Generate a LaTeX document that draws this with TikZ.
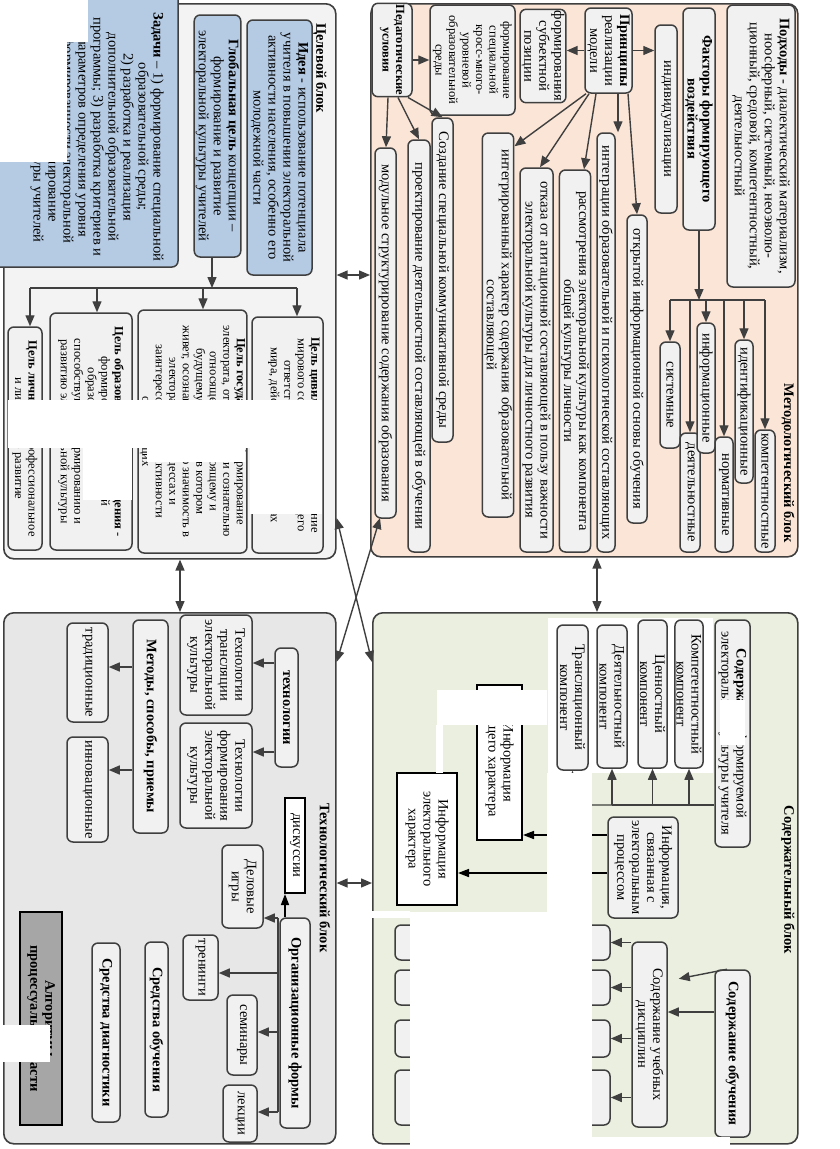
\documentclass[tikz,border=0pt]{standalone}
\usepackage{fontspec}
\setmainfont{Liberation Serif}
\usetikzlibrary{arrows.meta}
\definecolor{bdr}{HTML}{3F3F3F}
\definecolor{peach}{HTML}{FBE5D6}
\definecolor{cgray}{HTML}{F3F3F3}
\definecolor{tgray}{HTML}{E7E7E7}
\definecolor{sgreen}{HTML}{EAEFDF}
\definecolor{bfill}{HTML}{F1F1F1}
\definecolor{blu}{HTML}{B5CBE4}
\definecolor{alggray}{HTML}{A6A6A6}
\newcommand\fs{\fontsize{14.5}{15}\selectfont}
\newcommand\fss{\fontsize{12.5}{13.5}\selectfont}
\newcommand\rb[7]{%
 \pgfmathsetmacro\rbW{#6-#4}%
 \pgfmathsetmacro\rbH{#5-#3}%
 \pgfmathsetmacro\rbX{(#3+#5)/2}%
 \pgfmathsetmacro\rbY{(#4+#6)/2}%
 \node[#2, rotate=-90, minimum width=\rbW pt, minimum height=\rbH pt] (#1) at (\rbX,\rbY) {#7};}
\newcommand\blk[6]{%
 \pgfmathsetmacro\bW{#5-#3}\pgfmathsetmacro\bH{#6-#4}%
 \node[blk, fill=#2, anchor=north west, minimum width=\bW pt, minimum height=\bH pt, inner sep=0pt] (#1) at (#3,#4) {};}
\newcommand\wpatch[4]{\fill[white] (#1,#2) rectangle (#3,#4);}
\begin{document}
\begin{tikzpicture}[x=1pt,y=-1pt,
  box/.style={draw=bdr, line width=1.5pt, rounded corners=6pt, fill=bfill, align=center, inner sep=1.5pt, font=\fs},
  sbox/.style={box, font=\fss},
  bbox/.style={box, fill=blu},
  rbox/.style={draw=black, line width=2pt, fill=white, align=center, inner sep=1.5pt, font=\fs},
  abox/.style={rbox, fill=alggray},
  blk/.style={draw=bdr, line width=1.6pt, rounded corners=10pt},
  ttl/.style={font=\fs\bfseries, inner sep=0pt},
  arr/.style={draw=bdr, line width=1.4pt, -{Triangle[length=11pt,width=9pt]}},
  darr/.style={draw=bdr, line width=1.4pt, {Triangle[length=11pt,width=9pt]}-{Triangle[length=11pt,width=9pt]}},
  barr/.style={draw=black, line width=1.6pt, -{Triangle[length=11pt,width=8pt]}},
  ln/.style={draw=bdr, line width=1.4pt}]
\useasboundingbox (0,0) rectangle (839,1149);
\fill[white] (0,0) rectangle (839,1149);

% blocks
\blk{mblk}{peach}{370}{3}{797}{556}
\blk{cblk}{cgray}{3}{3}{335}{558}
\blk{tblk}{tgray}{3}{612}{335}{1143}
\blk{sblk}{sgreen}{372}{612}{797}{1143}

% titles
\node[ttl, rotate=-90] (tm) at (788,463) {Методологический блок};
\node[ttl, rotate=-90] (tc) at (320,68) {Целевой блок};
\node[ttl, rotate=-90] (tt) at (325,878) {Технологический блок};
\node[ttl, rotate=-90] (ts) at (788,880) {Содержательный блок};

% ---- methodological block
\rb{podh}{box}{727}{5}{795}{287}{\textbf{Подходы} - диалектический материализм,\\ноосферный, системный, неоэволю-\\ционный, средовой, компетентностный,\\деятельностный}
\rb{fakt}{box}{683}{8}{715}{230}{\textbf{Факторы формирующего}\\\textbf{воздействия}}
\rb{indiv}{box}{655}{25}{677}{213}{индивидуализации}
\rb{prin}{box}{585}{8}{632}{93}{\textbf{Принципы}\\реализации\\модели}
\rb{subj}{box}{523}{10}{563}{102}{формирования\\субъектной\\позиции}
\rb{sreda}{sbox}{430}{5}{515}{115}{формирование\\специальной\\кросс-много-\\уровневой\\образовательной\\среды}
\rb{pedu}{sbox}{372}{5}{412}{95}{\textbf{Педагогические}\\\textbf{условия}}
\rb{sozd}{box}{432}{118}{453}{442}{Создание специальной коммуникативной среды}
\rb{proekt}{box}{408}{140}{430}{552}{проектирование деятельностной составляющей в обучении}
\rb{modul}{box}{375}{148}{396}{518}{модульное структурирование содержания образования}
\rb{int1}{box}{597}{133}{615}{552}{интеграции образовательной и психологической составляющих}
\rb{otkr}{box}{627}{215}{647}{523}{открытой информационной основы обучения}
\rb{rassm}{box}{560}{170}{590}{552}{рассмотрения электоральной культуры как компонента\\общей культуры личности}
\rb{otkaz}{box}{520}{168}{553}{552}{отказа от агитационной составляющей в пользу важности\\электоральной культуры для личностного развития}
\rb{integr}{box}{483}{133}{513}{517}{интегрированный характер содержания образовательной\\составляющей}
\rb{sist}{box}{660}{342}{680}{448}{системные}
\rb{deyat}{box}{680}{433}{700}{552}{деятельностные}
\rb{inform}{box}{697}{323}{715}{453}{информационные}
\rb{norm}{box}{715}{437}{733}{552}{нормативные}
\rb{ident}{box}{735}{340}{753}{483}{идентификационные}
\rb{komp}{box}{755}{430}{775}{552}{компетентностные}

\draw[arr] (prin.north) -- (indiv.south |- prin.north);
\draw[arr] (prin.south) -- (subj.north |- prin.south);
\draw[arr] (618,0 |- prin.east) -- (618,0 |- int1.west);
\draw[arr] (628,0 |- prin.east) -- (otkr.west);
\draw[arr] (596,0 |- prin.east) -- (584,0 |- rassm.west);
\draw[arr] (589,0 |- prin.east) -- (540,0 |- otkaz.west);
\coordinate (intA) at ([yshift=-14pt]integr.north west);
\draw[arr] (586,0 |- prin.east) -- (intA);
\coordinate (fbar) at (0,300);
\draw[arr] (fakt.east) -- (fakt.east |- fbar);
\draw[ln] (sist.west |- fbar) -- (komp.west |- fbar);
\foreach \n in {sist,deyat,inform,norm,ident,komp} \draw[arr] (\n.west |- fbar) -- (\n.west);
\draw[arr] (pedu.north |- sreda.south) -- (sreda.south);
\draw[arr] (408,0 |- pedu.east) -- (sozd.west);
\draw[arr] (398,0 |- pedu.east) -- (419,0 |- proekt.west);
\draw[arr] (388,0 |- pedu.east) -- (386,0 |- modul.west);

% ---- goal block
\rb{ideya}{bbox}{247}{20}{312}{275}{\textbf{Идея} - использование потенциала\\учителя в повышении электоральной\\активности населения, особенно его\\молодежной части}
\rb{glob}{bbox}{195}{15}{240}{257}{\textbf{Глобальная цель} концепции –\\формирование и развитие\\электоральной культуры учителей}
\draw[bbox] (-12,-12) rectangle (178,267);
\node[font=\fs, align=center, rotate=-90, inner sep=0pt] (zad) at (97,137) {\textbf{Задачи} – 1) формирование специальной\\образовательной среды;\\2) разработка и реализация\\дополнительной образовательной\\программы; 3) разработка критериев и\\параметров определения уровня\\сформированности электоральной\\культуры; 4) формирование\\электоральной культуры учителей};
\rb{tsiv}{sbox}{252}{317}{323}{553}{\textbf{Цель цивилизации} - формирование\\мирового сообщества, осознающего\\ответственность за будущее\\мира, действующего в интересах\\цивилизации}
\rb{gos}{sbox}{140}{310}{245}{553}{\textbf{Цель государства} - формирование\\электората, ответственно и сознательно\\относящегося к настоящему и\\будущему общества, в котором\\живет, осознающего свою значимость в\\электоральных процессах и\\заинтересованного в активности\\окружающих}
\rb{obr}{sbox}{50}{313}{132}{550}{\textbf{Цель образовательного учреждения} -\\формирование специальной\\образовательной среды,\\способствующей формированию и\\развитию электоральной культуры}
\rb{lich}{sbox}{8}{327}{42}{550}{\textbf{Цель личности} - профессиональное\\и личностное развитие}
\coordinate (gbar) at (0,288);
\draw[arr] (212,0 |- glob.east) -- (212,0 |- gbar);
\draw[ln] (30,0 |- gbar) -- (297,0 |- gbar);
\draw[arr] (297,0 |- gbar) -- (297,0 |- tsiv.west);
\draw[arr] (203,0 |- gbar) -- (203,0 |- gos.west);
\draw[arr] (97,0 |- gbar) -- (97,0 |- obr.west);
\draw[arr] (30,0 |- gbar) -- (30,0 |- lich.west);

% ---- technology block
\rb{tehn}{box}{275}{648}{298}{767}{\textbf{технологии}}
\rb{ttr}{box}{180}{615}{252}{715}{Технологии\\трансляции\\электоральной\\культуры}
\rb{tfr}{box}{180}{723}{252}{828}{Технологии\\формирования\\электоральной\\культуры}
\rb{met}{box}{133}{620}{168}{833}{\textbf{Методы, способы, приемы}}
\rb{trad}{box}{67}{623}{108}{722}{традиционные}
\rb{innov}{box}{67}{737}{108}{842}{инновационные}
\rb{disk}{rbox}{285}{798}{305}{893}{дискуссии}
\rb{org}{box}{280}{918}{310}{1128}{\textbf{Организационные формы}}
\rb{del}{box}{222}{845}{263}{928}{Деловые\\игры}
\rb{tren}{box}{183}{935}{218}{1000}{тренинги}
\rb{sem}{box}{227}{995}{257}{1075}{семинары}
\rb{lek}{box}{223}{1085}{257}{1142}{лекции}
\rb{sro}{box}{145}{942}{168}{1117}{\textbf{Средства обучения}}
\rb{srd}{box}{92}{943}{120}{1122}{\textbf{Средства диагностики}}
\rb{alg}{abox}{20}{912}{62}{1125}{\textbf{Алгоритмы}\\\textbf{процессуальной части}}

\draw[arr] (tehn.south |- 0,663) -- (ttr.north |- 0,663);
\draw[arr] (tehn.south |- 0,752) -- (tfr.north |- 0,752);
\draw[arr] (met.south |- 0,667) -- (trad.north |- 0,667);
\draw[arr] (met.south |- 0,770) -- (innov.north |- 0,770);
\draw[barr] (285,0 |- org.west) -- (285,0 |- disk.east);
\draw[ln] (278,918) -- (278,1112);
\draw[arr] (278,918) -- (del.north |- 0,918);
\draw[arr] (278,973) -- (tren.north |- 0,973);
\draw[arr] (278,1032) -- (sem.north |- 0,1032);
\draw[arr] (278,1112) -- (lek.north |- 0,1112);

% ---- content block
\wpatch{548}{618}{713}{773}
\rb{sfk}{box}{715}{620}{750}{847}{\textbf{Содержание} формируемой\\электоральной культуры учителя}
\rb{kk}{box}{675}{620}{703}{768}{Компетентностный\\компонент}
\rb{ck}{box}{638}{620}{667}{768}{Ценностный\\компонент}
\rb{dk}{box}{597}{625}{627}{768}{Деятельностный\\компонент}
\rb{trk}{box}{557}{625}{588}{770}{Трансляционный\\компонент}
\rb{inf}{box}{608}{817}{678}{918}{Информация,\\связанная с\\электоральным\\процессом}
\rb{iog}{rbox}{477}{685}{522}{840}{Информация\\общего характера}
\rb{iel}{rbox}{397}{773}{457}{905}{Информация\\электорального\\характера}
\rb{sdis}{box}{632}{942}{667}{1127}{Содержание учебных\\дисциплин}
\rb{d1}{box}{395}{925}{610}{960}{}
\rb{d2}{box}{395}{970}{610}{1005}{}
\rb{d3}{box}{395}{1020}{610}{1057}{}
\rb{d4}{box}{395}{1070}{610}{1125}{}
\rb{sob}{box}{715}{970}{750}{1137}{\textbf{Содержание обучения}}

\coordinate (sbar) at (0,805);
\draw[ln] (sfk.south |- sbar) -- (dk.east |- sbar);
\draw[arr, rounded corners=8pt] (dk.east |- sbar) -- (trk.east |- sbar) -- (trk.east);
\foreach \n in {kk,ck,dk} \draw[arr] (\n.east |- sbar) -- (\n.east);
\draw[barr] (inf.south |- 0,835) -- (iog.north |- 0,835);
\draw[barr] (inf.south |- 0,873) -- (iel.north |- 0,873);
\draw[arr] (sob.south |- 0,1012) -- (sdis.north |- 0,1012);
\coordinate (infA) at ([yshift=-60pt]inf.north east);
\draw[arr] (727,0 |- sob.west) -- (infA);
\foreach \n in {d1,d2,d3,d4} \draw[arr] (sdis.south |- \n.north) -- (\n.north);

% ---- links between blocks
\draw[darr] (cblk.east |- 0,275) -- (mblk.west |- 0,275);
\draw[darr] (597,0 |- mblk.south) -- (597,0 |- sblk.north);
\draw[darr] (180,0 |- cblk.south) -- (180,0 |- tblk.north);
\draw[darr] (tblk.east |- 0,883) -- (sblk.west |- 0,883);
\coordinate (xc) at (380,518);
\draw[darr] (cblk.east |- 0,518) -- (sblk.west |- 0,662);
\draw[darr] (xc) -- (tblk.east |- 0,662);

% ---- white patches (as in the reference)
\wpatch{-5}{-5}{88}{42}
\wpatch{-5}{42}{67}{162}
\wpatch{8}{400}{322}{448}
\wpatch{250}{448}{322}{514}
\wpatch{147}{448}{245}{462}
\wpatch{83}{448}{132}{500}
\wpatch{0}{1025}{50}{1062}
\wpatch{437}{690}{547}{725}
\wpatch{436}{725}{443}{773}
\wpatch{547}{773}{592}{1143}
\wpatch{410}{912}{547}{1149}
\wpatch{360}{911}{410}{918}
\wpatch{547}{1137}{730}{1149}
\wpatch{720}{700}{745}{745}
\end{tikzpicture}
\end{document}
